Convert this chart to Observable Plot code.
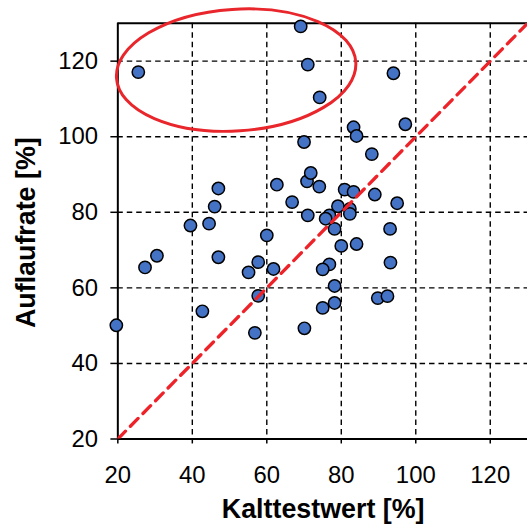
<!DOCTYPE html>
<html>
<head>
<meta charset="utf-8">
<script src="https://cdn.jsdelivr.net/npm/d3@7"></script>
<script src="https://cdn.jsdelivr.net/npm/@observablehq/plot@0.6"></script>
<style>
  html, body { margin: 0; padding: 0; background: #fff; overflow: hidden; width: 527px; height: 527px; }
</style>
</head>
<body>
<div id="chart"></div>
<script>
// Kalttestwert [%] (x) and Auflaufrate [%] (y) per sample
const kalttest = [25.5, 69.1, 71.0, 74.2, 70.0, 94.0, 97.2, 83.3, 84.1, 88.2,
  47.0, 46.0, 39.5, 44.5, 30.5, 27.3, 47.0, 62.7, 66.8, 70.8,
  71.8, 74.1, 71.0, 60.0, 57.7, 55.1, 61.8, 57.7, 42.7, 19.6,
  56.8, 70.1, 80.9, 83.3, 89.0, 95.0, 79.1, 82.3, 82.3, 76.8,
  75.8, 78.2, 93.1, 80.0, 84.1, 93.2, 76.8, 75.0, 78.2, 89.8,
  92.4, 78.2, 75.0];
const auflaufrate = [117.1, 129.2, 119.1, 110.4, 98.6, 116.8, 103.3, 102.5, 100.2, 95.4,
  86.3, 81.5, 76.5, 77.0, 68.5, 65.4, 68.1, 87.3, 82.7, 88.2,
  90.4, 86.8, 79.2, 73.9, 66.8, 64.1, 65.0, 57.9, 53.8, 50.1,
  48.1, 49.3, 86.0, 85.4, 84.7, 82.4, 81.6, 80.9, 79.6, 79.2,
  78.3, 75.6, 75.6, 71.1, 71.6, 66.7, 66.2, 64.9, 60.5, 57.3,
  57.8, 56.0, 54.7];
const xTicks = [20, 40, 60, 80, 100, 120];
const yTicks = [20, 40, 60, 80, 100, 120];
const xDomain = [20, 130];
const yDomain = [20, 130];
const diagonal = [20, 130];           // reference line y = x
const ellipseCenter = [51.9, 117.5];  // highlighted group (data units)
const ellipseRadii = [32.2, 16.1];    // (data units)
const ellipseTilt = -3.8;             // degrees
const xLabel = "Kalttestwert [%]";
const yLabel = "Auflaufrate [%]";

const points = kalttest.map((x, i) => ({x, y: auflaufrate[i]}));

const ellipseMark = (index, scales) => {
  const cx = scales.x(ellipseCenter[0]), cy = scales.y(ellipseCenter[1]);
  const rx = Math.abs(scales.x(ellipseCenter[0] + ellipseRadii[0]) - cx);
  const ry = Math.abs(scales.y(ellipseCenter[1] + ellipseRadii[1]) - cy);
  const g = d3.create("svg:g");
  g.append("ellipse")
    .attr("cx", cx).attr("cy", cy).attr("rx", rx).attr("ry", ry)
    .attr("transform", `rotate(${ellipseTilt},${cx},${cy})`)
    .attr("fill", "none").attr("stroke", "#e8262b").attr("stroke-width", 3);
  return g.node();
};

const grid = {stroke: "black", strokeOpacity: 1, strokeWidth: 1.4, strokeDasharray: "5.5,4"};
const W = 530, H = 527, ML = 118, MR = 0, MT = 23, MB = 86;

const chart = Plot.plot({
  width: W,
  height: H,
  marginLeft: ML,
  marginRight: MR,
  marginTop: MT,
  marginBottom: MB,
  style: {fontFamily: "'Liberation Sans', Arial, sans-serif", background: "white", color: "black", overflow: "visible"},
  x: {domain: xDomain},
  y: {domain: yDomain},
  marks: [
    Plot.gridX(xTicks.filter(d => d > xDomain[0]), grid),
    Plot.gridY(yTicks.filter(d => d > yDomain[0]), grid),
    Plot.ruleX([xDomain[0]], {stroke: "black", strokeWidth: 2}),
    Plot.ruleY([yDomain[0], yDomain[1]], {stroke: "black", strokeWidth: 2}),
    Plot.axisX(xTicks, {tickSize: 5, tickPadding: 22, fontSize: 24, strokeWidth: 1.5, label: null, tickFormat: d => d}),
    Plot.axisY(yTicks, {tickSize: 7, tickPadding: 13, fontSize: 24, strokeWidth: 1.5, label: null, tickFormat: d => d}),
    Plot.dot(points, {x: "x", y: "y", r: 6.2, fill: "#4472c4", stroke: "black", strokeWidth: 1.5}),
    Plot.line(diagonal, {x: d => d, y: d => d, stroke: "#ee2229", strokeWidth: 3.3, strokeDasharray: "11,7", clip: true}),
    ellipseMark
  ]
});

// axis titles
const svg = d3.select(chart);
svg.append("text")
  .attr("x", (ML + W - MR) / 2 + 1)
  .attr("y", 521)
  .attr("text-anchor", "middle")
  .attr("font-size", 27).attr("font-weight", "bold").attr("fill", "black")
  .text(xLabel);
svg.append("text")
  .attr("transform", `translate(35,${(MT + H - MB) / 2 + 2}) rotate(-90)`)
  .attr("text-anchor", "middle")
  .attr("font-size", 27).attr("font-weight", "bold").attr("fill", "black")
  .text(yLabel);

document.getElementById("chart").appendChild(chart);
</script>
</body>
</html>
